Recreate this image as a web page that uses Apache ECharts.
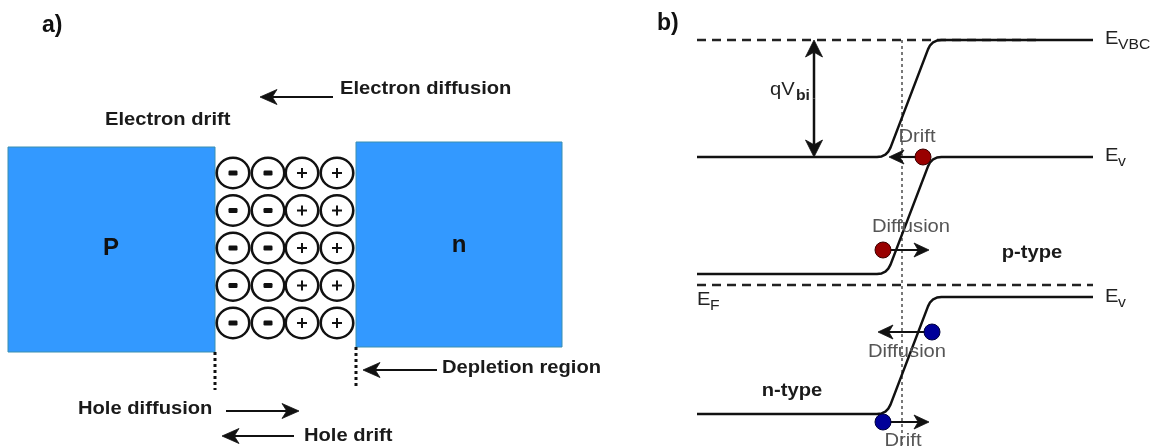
<!DOCTYPE html>
<html>
<head>
<meta charset="utf-8">
<script src="https://cdn.jsdelivr.net/npm/echarts@6/dist/echarts.min.js"></script>
<style>
html, body { margin: 0; padding: 0; background: #ffffff; }
#c { width: 1153px; height: 446px; }
</style>
</head>
<body>
<div id="c"></div>
<script>
// ================= DATA (diagram coordinates, x right, y down) =================
// ---- Panel a: p-n junction ----
const panelTags = ['a)', 'b)'];
const panelTagPos = [[42, 26], [657, 24]];

const blockNames = ['P', 'n'];
const blockRects = [[8, 147, 215, 352], [356, 142, 562, 347]]; // left, top, right, bottom
const blockLabelPos = [[111, 248], [459, 245]];

const chargeSigns = ['-', '-', '+', '+'];
const chargeColX = [233, 268, 302, 337];
const chargeRowY = [173, 210.5, 248, 285.5, 323];

const depletionEdges = [[215, 352, 390], [356, 347, 388]]; // x, yStart, yEnd

const arrowsA = [[333, 97, 260, 97], [437, 370, 363, 370], [226, 411, 299, 411], [294, 436, 222, 436]]; // tail -> head
const textsA = ['Electron diffusion', 'Electron drift', 'Depletion region', 'Hole diffusion', 'Hole drift'];
const textsAPos = [[340, 89], [105, 120], [442, 368], [78, 409], [304, 436]];

// ---- Panel b: band diagram ----
const bandUpper = [[697, 157], [877, 157], [881.6, 156.4], [885.4, 154.7], [888.3, 151.7], [890.5, 147.6], [928, 49.4], [930.1, 45.3], [933.1, 42.4], [936.9, 40.6], [941.5, 40], [1093, 40]];
const bandMiddle = [[697, 274], [877, 274], [881.6, 273.4], [885.4, 271.7], [888.3, 268.7], [890.5, 264.6], [928, 166.4], [930.1, 162.3], [933.1, 159.4], [936.9, 157.6], [941.5, 157], [1093, 157]];
const bandLower = [[697, 414], [877, 414], [881.6, 413.4], [885.4, 411.7], [888.3, 408.7], [890.5, 404.6], [928, 306.4], [930.1, 302.3], [933.1, 299.4], [936.9, 297.6], [941.5, 297], [1093, 297]];

const vbcDashed = [[697, 40], [1040, 40]];
const fermiDashed = [[697, 285], [1093, 285]];
const junctionDotted = [[902, 40], [902, 446]];

const qvbiArrow = [[814, 40, 157]]; // x, yTop, yBottom

const holeDots = [[923, 157], [883, 250]];
const electronDots = [[932, 332], [883, 422]];
const carrierArrows = [[923, 157, 889, 157], [883, 250, 929, 250], [932, 332, 878, 332], [883, 422, 929, 422]];
const carrierLabels = ['Drift', 'Diffusion', 'Diffusion', 'Drift'];
const carrierLabelPos = [[917, 137], [911, 227], [907, 352], [903, 441]];

const typeLabels = ['p-type', 'n-type'];
const typeLabelPos = [[1032, 253], [792, 391]];

const levelMain = ['E', 'E', 'E', 'E', 'qV'];
const levelSub = ['VBC', 'v', 'F', 'v', 'bi'];
const levelPos = [[1105, 39], [1105, 156], [697, 300], [1105, 297], [770, 90]];

// ================= RENDERING =================
const SX = 1.12;
const FAM = '"Liberation Sans", Arial, Helvetica, sans-serif';
const INK = '#111111';

function arrowEls(api, a, L, W, lw) {
  const p0 = api.coord([a[0], a[1]]);
  const p1 = api.coord([a[2], a[3]]);
  const dx = p1[0] - p0[0], dy = p1[1] - p0[1];
  const len = Math.hypot(dx, dy);
  const ux = dx / len, uy = dy / len, nx = -uy, ny = ux;
  const notch = L * 0.72;
  const bx = p1[0] - ux * L, by = p1[1] - uy * L;
  const mx = p1[0] - ux * notch, my = p1[1] - uy * notch;
  return [
    { type: 'line', shape: { x1: p0[0], y1: p0[1], x2: mx, y2: my }, style: { stroke: INK, lineWidth: lw } },
    { type: 'polygon', shape: { points: [[p1[0], p1[1]], [bx + nx * W, by + ny * W], [mx, my], [bx - nx * W, by - ny * W]] }, style: { fill: INK, stroke: INK, lineWidth: 0.8, lineJoin: 'round' } }
  ];
}

function textSeries(pos, labels, styleOf, z) {
  return {
    type: 'custom', coordinateSystem: 'cartesian2d', silent: true, z: z || 20,
    data: pos,
    renderItem: function (params, api) {
      const p = api.coord([api.value(0), api.value(1)]);
      const st = styleOf(params.dataIndex);
      return {
        type: 'text', x: p[0], y: p[1], scaleX: st.sx || SX,
        style: { text: labels[params.dataIndex], fill: st.fill, font: st.font, align: st.align, verticalAlign: 'middle' }
      };
    }
  };
}

function lineSeries(data, color, width, type, z) {
  return {
    type: 'line', data: data, symbol: 'none', silent: true, z: z,
    lineStyle: { color: color, width: width, type: type || 'solid', cap: 'butt', opacity: 1 }
  };
}

const chargeData = [];
chargeRowY.forEach(function (y) {
  chargeColX.forEach(function (x, ci) { chargeData.push([x, y, ci]); });
});

const chart = echarts.init(document.getElementById('c'), null, { renderer: 'canvas' });

const option = {
  animation: false,
  backgroundColor: '#ffffff',
  grid: { left: 0, right: 0, top: 0, bottom: 0 },
  xAxis: { type: 'value', min: 0, max: 1153, show: false },
  yAxis: { type: 'value', min: 0, max: 446, inverse: true, show: false },
  series: [
    // P and n blocks
    {
      type: 'custom', coordinateSystem: 'cartesian2d', silent: true, z: 1,
      data: blockRects,
      renderItem: function (params, api) {
        const a = api.coord([api.value(0), api.value(1)]);
        const b = api.coord([api.value(2), api.value(3)]);
        return {
          type: 'rect', shape: { x: a[0], y: a[1], width: b[0] - a[0], height: b[1] - a[1] },
          style: { fill: '#3399ff', stroke: '#3a8fb0', lineWidth: 1 }
        };
      }
    },
    textSeries(blockLabelPos, blockNames, function () { return { fill: '#111', font: 'bold 24px ' + FAM, align: 'center', sx: 1.0 }; }),
    // depletion charges
    {
      type: 'custom', coordinateSystem: 'cartesian2d', silent: true, z: 2,
      data: chargeData,
      renderItem: function (params, api) {
        const c = api.coord([api.value(0), api.value(1)]);
        const sign = chargeSigns[api.value(2)];
        const kids = [{ type: 'circle', x: c[0], y: c[1], scaleX: 1.07, shape: { cx: 0, cy: 0, r: 15.2 }, style: { fill: '#fff', stroke: INK, lineWidth: 2.4 } }];
        if (sign === '-') {
          kids.push({ type: 'rect', shape: { x: c[0] - 4.5, y: c[1] - 2.5, width: 9, height: 5, r: 1.2 }, style: { fill: INK } });
        } else {
          kids.push({ type: 'line', shape: { x1: c[0] - 5, y1: c[1], x2: c[0] + 5, y2: c[1] }, style: { stroke: INK, lineWidth: 2 } });
          kids.push({ type: 'line', shape: { x1: c[0], y1: c[1] - 5, x2: c[0], y2: c[1] + 5 }, style: { stroke: INK, lineWidth: 2 } });
        }
        return { type: 'group', children: kids };
      }
    },
    // depletion edge dotted lines
    {
      type: 'custom', coordinateSystem: 'cartesian2d', silent: true, z: 3,
      data: depletionEdges,
      renderItem: function (params, api) {
        const a = api.coord([api.value(0), api.value(1)]);
        const b = api.coord([api.value(0), api.value(2)]);
        return { type: 'line', shape: { x1: a[0], y1: a[1], x2: b[0], y2: b[1] }, style: { stroke: INK, lineWidth: 3, lineDash: [3, 3] } };
      }
    },
    // panel a arrows
    {
      type: 'custom', coordinateSystem: 'cartesian2d', silent: true, z: 4,
      data: arrowsA,
      renderItem: function (params, api) {
        return { type: 'group', children: arrowEls(api, [api.value(0), api.value(1), api.value(2), api.value(3)], 17, 7.5, 2.2) };
      }
    },
    textSeries(textsAPos, textsA, function () { return { fill: '#1a1a1a', font: 'bold 18px ' + FAM, align: 'left' }; }),
    textSeries(panelTagPos, panelTags, function () { return { fill: '#111', font: 'bold 23px ' + FAM, align: 'left', sx: 1.0 }; }),

    // ---- panel b ----
    lineSeries(vbcDashed, '#222', 2.5, [9, 6], 5),
    lineSeries(fermiDashed, '#222', 2.5, [9, 6], 5),
    lineSeries(junctionDotted, '#222', 1.2, [3, 3], 5),
    lineSeries(bandUpper, INK, 2.5, 'solid', 6),
    lineSeries(bandMiddle, INK, 2.5, 'solid', 6),
    lineSeries(bandLower, INK, 2.5, 'solid', 6),
    // qV_bi double arrow
    {
      type: 'custom', coordinateSystem: 'cartesian2d', silent: true, z: 7,
      data: qvbiArrow,
      renderItem: function (params, api) {
        const x = api.value(0), y0 = api.value(1), y1 = api.value(2);
        const mid = (y0 + y1) / 2;
        return { type: 'group', children: arrowEls(api, [x, mid, x, y0], 17, 8.5, 2.5).concat(arrowEls(api, [x, mid, x, y1], 17, 8.5, 2.5)) };
      }
    },
    // carrier arrows
    {
      type: 'custom', coordinateSystem: 'cartesian2d', silent: true, z: 7,
      data: carrierArrows,
      renderItem: function (params, api) {
        return { type: 'group', children: arrowEls(api, [api.value(0), api.value(1), api.value(2), api.value(3)], 15, 7, 2.2) };
      }
    },
    // holes and electrons
    {
      type: 'scatter', data: holeDots, symbol: 'circle', symbolSize: 16, silent: true, z: 8,
      itemStyle: { color: '#990000', borderColor: '#3d0000', borderWidth: 1, opacity: 1 }
    },
    {
      type: 'scatter', data: electronDots, symbol: 'circle', symbolSize: 16, silent: true, z: 8,
      itemStyle: { color: '#000099', borderColor: '#00003d', borderWidth: 1, opacity: 1 }
    },
    textSeries(carrierLabelPos, carrierLabels, function () { return { fill: '#555555', font: '18px ' + FAM, align: 'center' }; }, 9),
    textSeries(typeLabelPos, typeLabels, function () { return { fill: '#1a1a1a', font: 'bold 18px ' + FAM, align: 'center' }; }),
    // energy level labels with subscripts
    {
      type: 'custom', coordinateSystem: 'cartesian2d', silent: true, z: 20,
      data: levelPos,
      renderItem: function (params, api) {
        const p = api.coord([api.value(0), api.value(1)]);
        const i = params.dataIndex;
        const main = levelMain[i], sub = levelSub[i];
        const mainW = main === 'qV' ? 26 : 13;
        const subBold = main === 'qV';
        return {
          type: 'group', children: [
            { type: 'text', x: p[0], y: p[1], scaleX: SX, style: { text: main, fill: '#222', font: '18px ' + FAM, align: 'left', verticalAlign: 'middle' } },
            { type: 'text', x: p[0] + mainW, y: p[1] + 6, scaleX: SX, style: { text: sub, fill: '#222', font: (subBold ? 'bold ' : '') + '14px ' + FAM, align: 'left', verticalAlign: 'middle' } }
          ]
        };
      }
    }
  ]
};

chart.setOption(option);
</script>
</body>
</html>
